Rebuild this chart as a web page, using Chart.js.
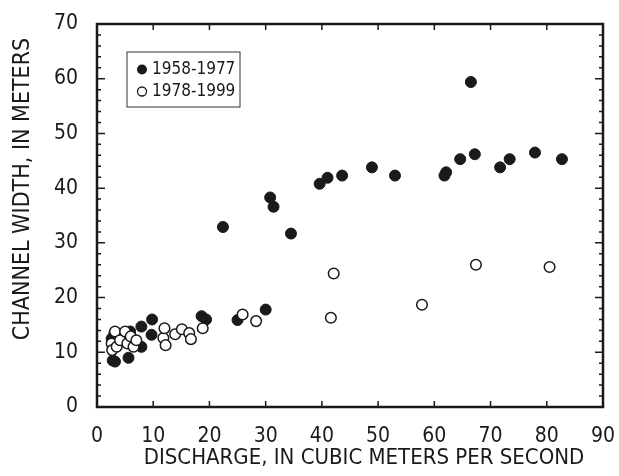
<!DOCTYPE html>
<html lang="en">

<head>
    <meta charset="UTF-8">
    <title>Channel Width vs Discharge</title>
    <script src="https://cdn.jsdelivr.net/npm/chart.js"></script>
    <style>
        body { margin: 0; background: #fff; }
        .chart-box { width: 619px; height: 476px; }
    </style>
</head>

<body>
    <div class="chart-box">
        <canvas id="widthChart"></canvas>
    </div>

    <script>
        // discharge (m3/s) and channel width (m)
        const dischargeEarly = [2.6, 3.1, 2.8, 3.2, 5.6, 5.9, 7.9, 7.9, 9.7, 9.8, 18.6, 19.4, 22.4, 25.0, 30.0, 30.8, 31.4, 34.5, 39.6, 41.0, 43.6, 48.9, 53.0, 61.8, 62.1, 64.6, 66.5, 67.2, 71.7, 73.4, 77.9, 82.7];
        const widthEarly = [12.5, 13.5, 8.5, 8.3, 9.0, 13.8, 14.7, 11.0, 13.2, 16.0, 16.6, 16.0, 32.9, 15.9, 17.8, 38.3, 36.6, 31.7, 40.8, 41.9, 42.3, 43.8, 42.3, 42.3, 42.9, 45.3, 59.4, 46.2, 43.8, 45.3, 46.5, 45.3];

        const dischargeLate = [2.6, 2.7, 3.2, 3.5, 4.1, 5.0, 5.4, 6.0, 6.5, 7.0, 11.8, 12.0, 12.2, 13.9, 15.1, 16.4, 16.7, 18.8, 25.9, 28.3, 41.6, 42.1, 57.8, 67.4, 80.5];
        const widthLate = [11.6, 10.4, 13.8, 11.0, 12.2, 13.8, 11.6, 12.9, 11.0, 12.2, 12.6, 14.4, 11.3, 13.3, 14.2, 13.5, 12.4, 14.4, 16.9, 15.7, 16.3, 24.4, 18.7, 26.0, 25.6];

        const periodLabels = ['1958-1977', '1978-1999'];
        const xTicks = [0, 10, 20, 30, 40, 50, 60, 70, 80, 90];
        const yMinorStep = 2;
        const xTitle = 'DISCHARGE, IN CUBIC METERS PER SECOND';
        const yTitle = 'CHANNEL WIDTH, IN METERS';

        const fontFamily = "'Liberation Sans Narrow', 'DejaVu Sans Condensed', Arial, sans-serif";
        const ink = '#1a1a1a';

        const toPoints = (xs, ys) => xs.map((x, i) => ({ x: x, y: ys[i] }));

        // frame, inward ticks on all four sides, axis titles and the boxed legend
        const framePlugin = {
            id: 'frame',
            afterDraw(chart) {
                const ctx = chart.ctx;
                const a = chart.chartArea;
                const xs = chart.scales.x;
                const ys = chart.scales.y;
                ctx.save();
                ctx.strokeStyle = ink;
                ctx.lineWidth = 1.5;
                xTicks.forEach(v => {
                    const px = xs.getPixelForValue(v);
                    ctx.beginPath();
                    ctx.moveTo(px, a.bottom); ctx.lineTo(px, a.bottom - 6);
                    ctx.moveTo(px, a.top); ctx.lineTo(px, a.top + 6);
                    ctx.stroke();
                });
                for (let v = 0; v <= ys.max; v += yMinorStep) {
                    const py = ys.getPixelForValue(v);
                    const len = v % 10 === 0 ? 8 : 4;
                    ctx.beginPath();
                    ctx.moveTo(a.left, py); ctx.lineTo(a.left + len, py);
                    ctx.moveTo(a.right, py); ctx.lineTo(a.right - len, py);
                    ctx.stroke();
                }
                ctx.lineWidth = 2.5;
                ctx.strokeRect(a.left, a.top, a.right - a.left, a.bottom - a.top);

                ctx.fillStyle = ink;
                ctx.textAlign = 'center';
                ctx.textBaseline = 'middle';
                // x title is shifted right of centre in the original
                ctx.font = '22px ' + fontFamily;
                ctx.fillText(xTitle, 364, 458);

                // y title sits a bit above the middle
                ctx.save();
                ctx.translate(23, 189);
                ctx.rotate(-Math.PI / 2);
                ctx.font = '23px ' + fontFamily;
                ctx.fillText(yTitle, 0, 0);
                ctx.restore();

                // legend
                const lx = 127, ly = 52;
                ctx.textAlign = 'left';
                ctx.lineWidth = 1;
                ctx.strokeStyle = '#333';
                ctx.strokeRect(lx, ly, 113, 55);
                ctx.font = '17px ' + fontFamily;
                ctx.beginPath();
                ctx.arc(lx + 15, ly + 17.5, 5, 0, Math.PI * 2);
                ctx.fill();
                ctx.fillText(periodLabels[0], lx + 25, ly + 18);
                ctx.beginPath();
                ctx.lineWidth = 1.3;
                ctx.strokeStyle = ink;
                ctx.arc(lx + 15, ly + 39.5, 4.5, 0, Math.PI * 2);
                ctx.stroke();
                ctx.fillText(periodLabels[1], lx + 25, ly + 40);
                ctx.restore();
            }
        };

        const ctx = document.getElementById('widthChart').getContext('2d');
        new Chart(ctx, {
            type: 'scatter',
            data: {
                datasets: [{
                    label: periodLabels[1],
                    data: toPoints(dischargeLate, widthLate),
                    backgroundColor: '#fff',
                    borderColor: ink,
                    borderWidth: 1.5,
                    pointRadius: 5.3,
                    order: 0
                }, {
                    label: periodLabels[0],
                    data: toPoints(dischargeEarly, widthEarly),
                    backgroundColor: ink,
                    borderColor: ink,
                    borderWidth: 1,
                    pointRadius: 5.5,
                    order: 1
                }]
            },
            options: {
                responsive: true,
                maintainAspectRatio: false,
                animation: false,
                layout: { padding: { top: 24, right: 16, left: 0, bottom: 0 } },
                plugins: {
                    legend: { display: false },
                    tooltip: { enabled: false }
                },
                scales: {
                    x: {
                        type: 'linear',
                        min: 0,
                        max: 90,
                        grid: { display: false, drawTicks: false },
                        border: { display: false },
                        ticks: {
                            stepSize: 10,
                            padding: 17,
                            color: ink,
                            font: { family: fontFamily, size: 21 }
                        },
                        afterFit(scale) {
                            scale.height = 69;
                            scale.paddingLeft = 0;
                            scale.paddingRight = 0;
                        }
                    },
                    y: {
                        type: 'linear',
                        min: 0,
                        max: 70,
                        grid: { display: false, drawTicks: false },
                        border: { display: false },
                        ticks: {
                            stepSize: 10,
                            padding: 19,
                            color: ink,
                            font: { family: fontFamily, size: 21 }
                        },
                        afterFit(scale) {
                            scale.width = 97;
                            scale.paddingTop = 0;
                            scale.paddingBottom = 0;
                        }
                    }
                }
            },
            plugins: [framePlugin]
        });
    </script>
</body>

</html>
